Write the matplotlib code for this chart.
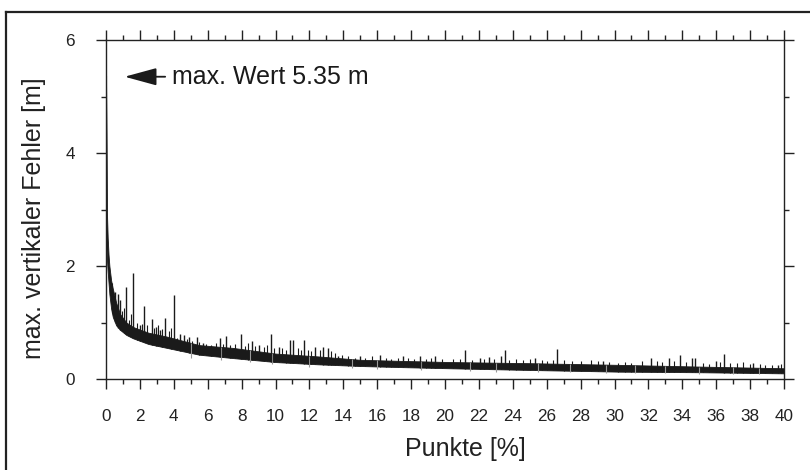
import matplotlib
matplotlib.use("Agg")
import matplotlib.pyplot as plt
import numpy as np
from matplotlib.ticker import MultipleLocator
from matplotlib.lines import Line2D

plt.rcParams['font.family'] = ['Liberation Sans', 'DejaVu Sans']

# Huellkurve des dichten Bandes
x_band = [0, 0.03, 0.06, 0.1, 0.15, 0.2, 0.3, 0.4, 0.6, 0.83, 1.2, 1.6, 2.5, 3.6,
          5.5, 7.5, 10, 12.5, 15, 17.5, 20.3, 25, 30.3, 35, 40]
band_lo = [2.6, 2.3, 2.1, 1.9, 1.7, 1.5, 1.25, 1.1, 0.95, 0.87, 0.78, 0.72, 0.62, 0.55,
           0.43, 0.37, 0.30, 0.26, 0.23, 0.21, 0.19, 0.16, 0.13, 0.12, 0.10]
band_hi = [5.35, 4.4, 2.9, 2.5, 2.2, 2.0, 1.75, 1.6, 1.35, 1.15, 1.0, 0.92, 0.82, 0.75,
           0.60, 0.55, 0.45, 0.40, 0.34, 0.32, 0.30, 0.28, 0.25, 0.22, 0.19]

# einzelne Ausreisser (Spitzen)
spike_x = [0.53, 0.73, 0.83, 1.16, 1.61, 2.0, 2.26, 2.71, 2.95, 3.19, 3.48, 4.01,
           4.37, 4.6, 4.9, 5.35, 5.74, 6.73, 7.08, 7.96, 8.61, 9.0, 9.71, 10.2,
           10.86, 11.05, 11.68, 12.33, 12.82, 13.08, 13.69, 14.98, 16.17, 17.5,
           18.5, 19.4, 21.2, 22.07, 22.6, 23.3, 23.54, 25.3, 26.63, 29.3, 32.13,
           33.2, 33.86, 34.6, 34.75, 36.0, 36.46, 38.2, 39.66]
spike_y = [1.54, 1.51, 1.40, 1.63, 1.88, 0.96, 1.29, 1.06, 0.92, 0.87, 1.08, 1.49,
           0.79, 0.78, 0.75, 0.74, 0.64, 0.73, 0.76, 0.79, 0.68, 0.60, 0.80, 0.57,
           0.69, 0.69, 0.69, 0.57, 0.56, 0.55, 0.40, 0.41, 0.43, 0.41,
           0.41, 0.41, 0.51, 0.37, 0.39, 0.41, 0.51, 0.37, 0.53, 0.31, 0.37,
           0.38, 0.43, 0.37, 0.37, 0.31, 0.44, 0.29, 0.25]

# kleinere Zacken am oberen Rand des Bandes
fuzz_x = [0.35, 0.45, 0.65, 0.95, 1.05, 1.35, 1.45, 1.8, 2.1, 2.4, 2.85, 3.05, 3.3, 3.7, 3.85,
          4.2, 4.75, 5.1, 5.5, 5.9, 6.2, 6.5, 6.9, 7.3, 7.6, 8.2, 8.4, 8.8, 9.3, 9.5, 9.9,
          10.4, 10.6, 11.3, 11.5, 11.9, 12.1, 12.6, 13.3, 13.5, 13.9,
          14.3, 14.7, 15.3, 15.7, 16.5, 16.8, 17.2, 17.8, 18.2, 18.9, 19.2, 19.8, 20.5,
          20.9, 21.6, 22.3, 22.9, 23.8, 24.2, 24.6, 25.0, 25.7, 26.0, 26.4, 27.0, 27.5,
          28.0, 28.6, 29.0, 29.7, 30.2, 30.6, 31.0, 31.6, 32.5, 32.8, 33.5, 34.2, 35.2,
          35.6, 36.2, 36.8, 37.2, 37.6, 38.0, 38.6, 38.9, 39.3, 39.8]
fuzz_y = [1.70, 1.45, 1.30, 1.20, 1.25, 1.05, 1.15, 1.00, 0.98, 0.95, 0.90, 0.95, 0.88, 0.85, 0.90,
          0.72, 0.70, 0.68, 0.66, 0.62, 0.60, 0.64, 0.62, 0.60, 0.62, 0.58, 0.64, 0.58, 0.56, 0.60, 0.55,
          0.55, 0.52, 0.54, 0.52, 0.52, 0.50, 0.52, 0.50, 0.46, 0.42,
          0.40, 0.38, 0.38, 0.40, 0.38, 0.36, 0.38, 0.37, 0.36, 0.35, 0.37, 0.35, 0.35,
          0.36, 0.34, 0.36, 0.35, 0.34, 0.36, 0.33, 0.35, 0.33, 0.32, 0.34, 0.33, 0.32,
          0.31, 0.33, 0.32, 0.30, 0.28, 0.30, 0.29, 0.31, 0.31, 0.30, 0.32, 0.30, 0.28,
          0.27, 0.30, 0.29, 0.28, 0.30, 0.26, 0.27, 0.25, 0.24, 0.26]

# graue Ausschlaege nach unten
dip_x = [5.0, 6.8, 8.5, 9.8, 12.0, 14.5, 16.0, 18.6, 21.5, 23.0, 25.5, 27.4, 29.5,
         31.2, 33.0, 35.0, 37.0, 38.5]
dip_y = [0.38, 0.33, 0.30, 0.26, 0.22, 0.19, 0.17, 0.16, 0.14, 0.13, 0.12, 0.12, 0.11,
         0.10, 0.10, 0.09, 0.09, 0.08]

max_x = 0.0
max_y = 5.35

fig = plt.figure(figsize=(8.1, 4.7), dpi=100)
ax = fig.add_axes([106/810, 1-379/470, (784-106)/810, (379-40)/470])

ink = '#1a1a1a'
ax.vlines(dip_x, dip_y, np.interp(dip_x, x_band, band_hi), color='#999999', lw=0.8)
ax.fill_between(x_band, band_lo, band_hi, color=ink, lw=0.6, edgecolor=ink)
ax.vlines(fuzz_x, np.interp(fuzz_x, x_band, band_lo), fuzz_y, color=ink, lw=0.8)
ax.vlines(spike_x, np.interp(spike_x, x_band, band_lo), spike_y, color=ink, lw=1.0)
ax.plot([max_x, max_x], [2.5, max_y], color=ink, lw=1.5)

ax.annotate("max. Wert 5.35 m", xy=(1.1, max_y), xytext=(3.9, max_y),
            fontsize=18, va='center', ha='left', color=ink,
            arrowprops=dict(arrowstyle='-|>,head_length=1.1,head_width=0.3',
                            color=ink, lw=1.3, shrinkA=3, shrinkB=0))

ax.set_xlim(0, 40)
ax.set_ylim(0, 6)
ax.xaxis.set_major_locator(MultipleLocator(2))
ax.xaxis.set_minor_locator(MultipleLocator(1))
ax.yaxis.set_major_locator(MultipleLocator(2))
ax.yaxis.set_minor_locator(MultipleLocator(1))
ax.tick_params(which='both', direction='out', top=True, right=True, width=1, color='#222222')
ax.tick_params(which='major', length=7.5)
ax.tick_params(which='minor', length=3.6)
ax.tick_params(axis='x', which='major', pad=14, labelsize=12.3, labelcolor='#222222')
ax.tick_params(axis='y', which='major', pad=15, labelsize=12.3, labelcolor='#222222')
for s in ax.spines.values():
    s.set_linewidth(1.0)
    s.set_color('#222222')

ax.set_xlabel("Punkte [%]", fontsize=18, color='#222222')
ax.set_ylabel("max. vertikaler Fehler [m]", fontsize=18, color='#222222')
ax.xaxis.set_label_coords(0.53, -0.17)
ax.yaxis.set_label_coords(-0.088, 0.475)

# Rahmen um die Abbildung
fig.add_artist(Line2D([6/810, 6/810], [0, 1-12/470], transform=fig.transFigure,
                      color='#222222', lw=1.6))
fig.add_artist(Line2D([6/810, 1], [1-12/470, 1-12/470], transform=fig.transFigure,
                      color='#222222', lw=1.6))

fig.savefig("out.png", dpi=100)
